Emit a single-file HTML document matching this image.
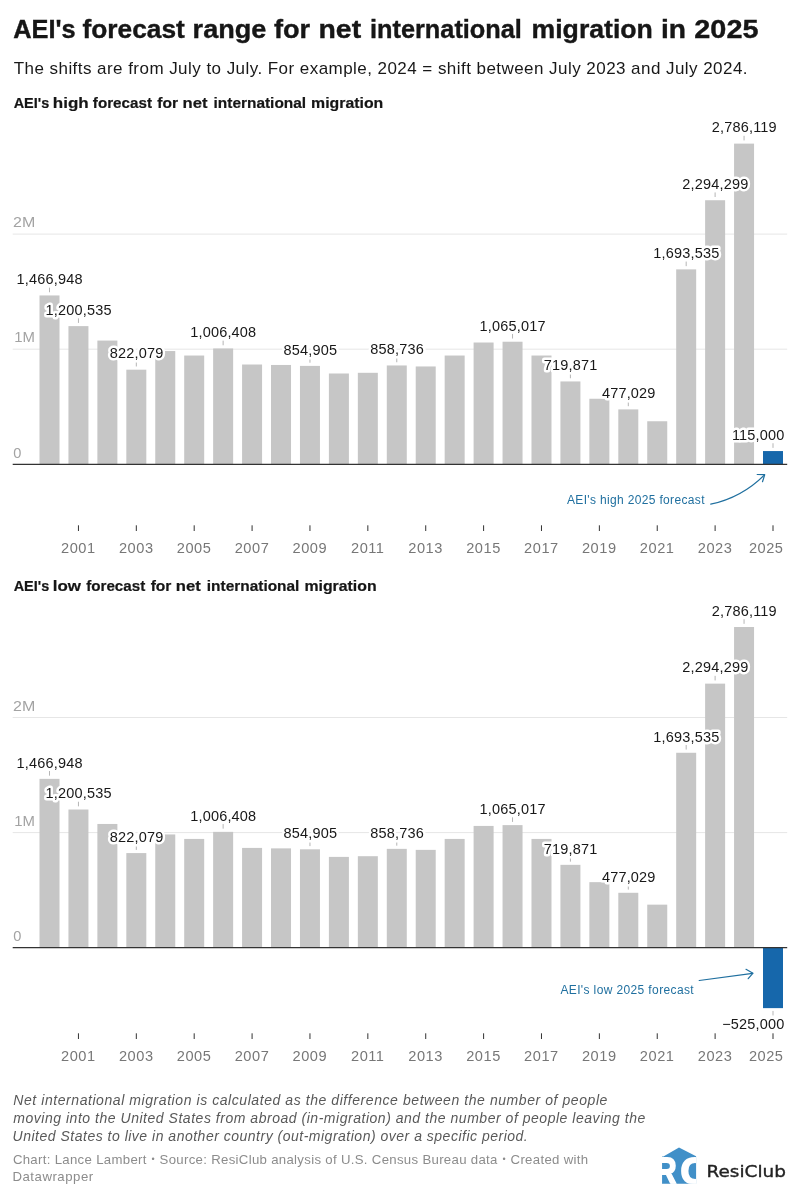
<!DOCTYPE html>
<html><head><meta charset="utf-8"><title>AEI's forecast range for net international migration in 2025</title>
<style>
html,body{margin:0;padding:0;background:#fff;}
body{width:800px;height:1198px;position:relative;overflow:hidden;}
svg{position:absolute;left:0;top:0;display:block;}
svg text{font-family:"Liberation Sans",sans-serif;white-space:pre;}
.h1{font-weight:bold;fill:#161616;stroke:#161616;stroke-width:0.4px;}
.sub{fill:#181818;}
.sec{font-weight:bold;fill:#161616;stroke:#161616;stroke-width:0.2px;}
.note{font-style:italic;fill:#595959;}
.by{fill:#8c8c8c;}
.grid{stroke:#e6e6e6;stroke-width:1;}
.base{stroke:#333;stroke-width:1.3;}
.ylab{fill:#a3a3a3;}
.xlab{fill:#777;}
.xt{stroke:#333;stroke-width:1;}
.vt{stroke:#b5b5b5;stroke-width:1;}
.vlab{fill:#181818;stroke:#fff;stroke-width:5px;paint-order:stroke;stroke-linejoin:round;}
.ann{fill:#1f6f9f;}
.arr{fill:none;stroke:#1f6f9f;stroke-width:1.2;stroke-linecap:round;stroke-linejoin:round;}
svg text.rc{font-family:"DejaVu Sans","Liberation Sans",sans-serif;fill:#222;stroke:#222;stroke-width:0.35px;}
</style></head><body>
<svg width="800" height="1198" viewBox="0 0 800 1198">
<text y="38.20" class="h1" font-size="26.6"><tspan x="13.30" textLength="62.42" lengthAdjust="spacingAndGlyphs">AEI's</tspan> <tspan x="82.49" textLength="102.34" lengthAdjust="spacingAndGlyphs">forecast</tspan> <tspan x="192.61" textLength="73.77" lengthAdjust="spacingAndGlyphs">range</tspan> <tspan x="273.98" textLength="36.21" lengthAdjust="spacingAndGlyphs">for</tspan> <tspan x="318.52" textLength="42.61" lengthAdjust="spacingAndGlyphs">net</tspan> <tspan x="370.02" textLength="151.88" lengthAdjust="spacingAndGlyphs">international</tspan> <tspan x="531.54" textLength="121.35" lengthAdjust="spacingAndGlyphs">migration</tspan> <tspan x="660.94" textLength="25.02" lengthAdjust="spacingAndGlyphs">in</tspan> <tspan x="694.30" textLength="64.22" lengthAdjust="spacingAndGlyphs">2025</tspan></text>
<text x="13.73" y="74.30" class="sub" font-size="17" letter-spacing="0.451">The shifts are from July to July. For example, 2024 = shift between July 2023 and July 2024.</text>
<text y="108.00" class="sec" font-size="15"><tspan x="13.67" textLength="35.51" lengthAdjust="spacingAndGlyphs">AEI's</tspan> <tspan x="52.84" textLength="35.88" lengthAdjust="spacingAndGlyphs">high</tspan> <tspan x="92.86" textLength="59.11" lengthAdjust="spacingAndGlyphs">forecast</tspan> <tspan x="157.36" textLength="20.76" lengthAdjust="spacingAndGlyphs">for</tspan> <tspan x="182.56" textLength="24.92" lengthAdjust="spacingAndGlyphs">net</tspan> <tspan x="213.54" textLength="92.58" lengthAdjust="spacingAndGlyphs">international</tspan> <tspan x="311.11" textLength="72.16" lengthAdjust="spacingAndGlyphs">migration</tspan></text>
<text y="591.00" class="sec" font-size="15"><tspan x="13.67" textLength="35.51" lengthAdjust="spacingAndGlyphs">AEI's</tspan> <tspan x="52.84" textLength="28.20" lengthAdjust="spacingAndGlyphs">low</tspan> <tspan x="86.16" textLength="59.11" lengthAdjust="spacingAndGlyphs">forecast</tspan> <tspan x="150.66" textLength="20.76" lengthAdjust="spacingAndGlyphs">for</tspan> <tspan x="175.86" textLength="24.92" lengthAdjust="spacingAndGlyphs">net</tspan> <tspan x="206.84" textLength="92.58" lengthAdjust="spacingAndGlyphs">international</tspan> <tspan x="304.41" textLength="72.16" lengthAdjust="spacingAndGlyphs">migration</tspan></text>
<g id="chart-high">
<line x1="12.7" x2="787.2" y1="349.20" y2="349.20" class="grid"/>
<text x="14.27" y="342.40" class="ylab" font-size="14.6" textLength="20.74" lengthAdjust="spacingAndGlyphs">1M</text>
<line x1="12.7" x2="787.2" y1="234.10" y2="234.10" class="grid"/>
<text x="13.05" y="227.30" class="ylab" font-size="14.6" textLength="22.23" lengthAdjust="spacingAndGlyphs">2M</text>
<text x="13.34" y="457.50" class="ylab" font-size="14.6" letter-spacing="0.000">0</text>
<rect x="39.50" y="295.45" width="20.0" height="168.85" fill="#c6c6c6"/>
<rect x="68.44" y="326.12" width="20.0" height="138.18" fill="#c6c6c6"/>
<rect x="97.38" y="340.57" width="20.0" height="123.73" fill="#c6c6c6"/>
<rect x="126.32" y="369.68" width="20.0" height="94.62" fill="#c6c6c6"/>
<rect x="155.26" y="351.04" width="20.0" height="113.26" fill="#c6c6c6"/>
<rect x="184.20" y="355.53" width="20.0" height="108.77" fill="#c6c6c6"/>
<rect x="213.14" y="348.46" width="20.0" height="115.84" fill="#c6c6c6"/>
<rect x="242.08" y="364.51" width="20.0" height="99.79" fill="#c6c6c6"/>
<rect x="271.02" y="364.97" width="20.0" height="99.33" fill="#c6c6c6"/>
<rect x="299.96" y="365.90" width="20.0" height="98.40" fill="#c6c6c6"/>
<rect x="328.90" y="373.49" width="20.0" height="90.81" fill="#c6c6c6"/>
<rect x="357.84" y="372.80" width="20.0" height="91.50" fill="#c6c6c6"/>
<rect x="386.78" y="365.46" width="20.0" height="98.84" fill="#c6c6c6"/>
<rect x="415.72" y="366.47" width="20.0" height="97.83" fill="#c6c6c6"/>
<rect x="444.66" y="355.53" width="20.0" height="108.77" fill="#c6c6c6"/>
<rect x="473.60" y="342.52" width="20.0" height="121.78" fill="#c6c6c6"/>
<rect x="502.54" y="341.72" width="20.0" height="122.58" fill="#c6c6c6"/>
<rect x="531.48" y="355.53" width="20.0" height="108.77" fill="#c6c6c6"/>
<rect x="560.42" y="381.44" width="20.0" height="82.86" fill="#c6c6c6"/>
<rect x="589.36" y="398.75" width="20.0" height="65.55" fill="#c6c6c6"/>
<rect x="618.30" y="409.39" width="20.0" height="54.91" fill="#c6c6c6"/>
<rect x="647.24" y="421.25" width="20.0" height="43.05" fill="#c6c6c6"/>
<rect x="676.18" y="269.37" width="20.0" height="194.93" fill="#c6c6c6"/>
<rect x="705.12" y="200.23" width="20.0" height="264.07" fill="#c6c6c6"/>
<rect x="734.06" y="143.62" width="20.0" height="320.68" fill="#c6c6c6"/>
<rect x="763.00" y="451.06" width="20.0" height="13.24" fill="#1667ab"/>
<line x1="12.7" x2="787.2" y1="464.30" y2="464.30" class="base"/>
<line x1="49.50" x2="49.50" y1="287.65" y2="292.25" class="vt"/>
<text x="16.54" y="284.25" class="vlab" font-size="14.5" letter-spacing="0.186">1,466,948</text>
<line x1="78.44" x2="78.44" y1="318.32" y2="322.92" class="vt"/>
<text x="45.48" y="314.92" class="vlab" font-size="14.5" letter-spacing="0.186">1,200,535</text>
<line x1="136.32" x2="136.32" y1="361.88" y2="366.48" class="vt"/>
<text x="109.82" y="358.48" class="vlab" font-size="14.5" letter-spacing="0.186">822,079</text>
<line x1="223.14" x2="223.14" y1="340.66" y2="345.26" class="vt"/>
<text x="190.18" y="337.26" class="vlab" font-size="14.5" letter-spacing="0.186">1,006,408</text>
<line x1="309.96" x2="309.96" y1="358.10" y2="362.70" class="vt"/>
<text x="283.46" y="354.70" class="vlab" font-size="14.5" letter-spacing="0.186">854,905</text>
<line x1="396.78" x2="396.78" y1="357.66" y2="362.26" class="vt"/>
<text x="370.28" y="354.26" class="vlab" font-size="14.5" letter-spacing="0.186">858,736</text>
<line x1="512.54" x2="512.54" y1="333.92" y2="338.52" class="vt"/>
<text x="479.58" y="330.52" class="vlab" font-size="14.5" letter-spacing="0.186">1,065,017</text>
<line x1="570.42" x2="570.42" y1="373.64" y2="378.24" class="vt"/>
<text x="543.81" y="370.24" class="vlab" font-size="14.5" letter-spacing="0.186">719,871</text>
<line x1="628.30" x2="628.30" y1="401.59" y2="406.19" class="vt"/>
<text x="601.92" y="398.19" class="vlab" font-size="14.5" letter-spacing="0.186">477,029</text>
<line x1="686.18" x2="686.18" y1="261.57" y2="266.17" class="vt"/>
<text x="653.22" y="258.17" class="vlab" font-size="14.5" letter-spacing="0.186">1,693,535</text>
<line x1="715.12" x2="715.12" y1="192.43" y2="197.03" class="vt"/>
<text x="682.28" y="189.03" class="vlab" font-size="14.5" letter-spacing="0.186">2,294,299</text>
<line x1="744.06" x2="744.06" y1="135.82" y2="140.42" class="vt"/>
<text x="711.76" y="132.42" class="vlab" font-size="14.5" letter-spacing="0.186">2,786,119</text>
<line x1="773.00" x2="773.00" y1="443.26" y2="447.86" class="vt"/>
<text x="731.91" y="439.86" class="vlab" font-size="14.5" letter-spacing="0.186">115,000</text>
<line x1="78.44" x2="78.44" y1="525.30" y2="531.00" class="xt"/>
<text x="61.06" y="552.50" class="xlab" font-size="14.6" letter-spacing="0.532">2001</text>
<line x1="136.32" x2="136.32" y1="525.30" y2="531.00" class="xt"/>
<text x="118.94" y="552.50" class="xlab" font-size="14.6" letter-spacing="0.532">2003</text>
<line x1="194.20" x2="194.20" y1="525.30" y2="531.00" class="xt"/>
<text x="176.82" y="552.50" class="xlab" font-size="14.6" letter-spacing="0.532">2005</text>
<line x1="252.08" x2="252.08" y1="525.30" y2="531.00" class="xt"/>
<text x="234.70" y="552.50" class="xlab" font-size="14.6" letter-spacing="0.532">2007</text>
<line x1="309.96" x2="309.96" y1="525.30" y2="531.00" class="xt"/>
<text x="292.58" y="552.50" class="xlab" font-size="14.6" letter-spacing="0.532">2009</text>
<line x1="367.84" x2="367.84" y1="525.30" y2="531.00" class="xt"/>
<text x="351.00" y="552.50" class="xlab" font-size="14.6" letter-spacing="0.532">2011</text>
<line x1="425.72" x2="425.72" y1="525.30" y2="531.00" class="xt"/>
<text x="408.34" y="552.50" class="xlab" font-size="14.6" letter-spacing="0.532">2013</text>
<line x1="483.60" x2="483.60" y1="525.30" y2="531.00" class="xt"/>
<text x="466.22" y="552.50" class="xlab" font-size="14.6" letter-spacing="0.532">2015</text>
<line x1="541.48" x2="541.48" y1="525.30" y2="531.00" class="xt"/>
<text x="524.10" y="552.50" class="xlab" font-size="14.6" letter-spacing="0.532">2017</text>
<line x1="599.36" x2="599.36" y1="525.30" y2="531.00" class="xt"/>
<text x="581.98" y="552.50" class="xlab" font-size="14.6" letter-spacing="0.532">2019</text>
<line x1="657.24" x2="657.24" y1="525.30" y2="531.00" class="xt"/>
<text x="639.86" y="552.50" class="xlab" font-size="14.6" letter-spacing="0.532">2021</text>
<line x1="715.12" x2="715.12" y1="525.30" y2="531.00" class="xt"/>
<text x="697.74" y="552.50" class="xlab" font-size="14.6" letter-spacing="0.532">2023</text>
<line x1="773.00" x2="773.00" y1="525.30" y2="531.00" class="xt"/>
<text x="748.92" y="552.50" class="xlab" font-size="14.6" letter-spacing="0.532">2025</text>
<text x="567.00" y="503.60" class="ann" font-size="12" letter-spacing="0.338">AEI's high 2025 forecast</text>
<path d="M710.7,504.2 Q742,497.3 764.2,475.1" class="arr"/>
<path d="M757.2,474.5 L764.7,474.7 L762.5,481.7" class="arr"/>
</g>
<g id="chart-low">
<line x1="12.7" x2="787.2" y1="832.60" y2="832.60" class="grid"/>
<text x="14.27" y="825.80" class="ylab" font-size="14.6" textLength="20.74" lengthAdjust="spacingAndGlyphs">1M</text>
<line x1="12.7" x2="787.2" y1="717.50" y2="717.50" class="grid"/>
<text x="13.05" y="710.70" class="ylab" font-size="14.6" textLength="22.23" lengthAdjust="spacingAndGlyphs">2M</text>
<text x="13.34" y="940.90" class="ylab" font-size="14.6" letter-spacing="0.000">0</text>
<rect x="39.50" y="778.85" width="20.0" height="168.85" fill="#c6c6c6"/>
<rect x="68.44" y="809.52" width="20.0" height="138.18" fill="#c6c6c6"/>
<rect x="97.38" y="823.97" width="20.0" height="123.73" fill="#c6c6c6"/>
<rect x="126.32" y="853.08" width="20.0" height="94.62" fill="#c6c6c6"/>
<rect x="155.26" y="834.44" width="20.0" height="113.26" fill="#c6c6c6"/>
<rect x="184.20" y="838.93" width="20.0" height="108.77" fill="#c6c6c6"/>
<rect x="213.14" y="831.86" width="20.0" height="115.84" fill="#c6c6c6"/>
<rect x="242.08" y="847.91" width="20.0" height="99.79" fill="#c6c6c6"/>
<rect x="271.02" y="848.37" width="20.0" height="99.33" fill="#c6c6c6"/>
<rect x="299.96" y="849.30" width="20.0" height="98.40" fill="#c6c6c6"/>
<rect x="328.90" y="856.89" width="20.0" height="90.81" fill="#c6c6c6"/>
<rect x="357.84" y="856.20" width="20.0" height="91.50" fill="#c6c6c6"/>
<rect x="386.78" y="848.86" width="20.0" height="98.84" fill="#c6c6c6"/>
<rect x="415.72" y="849.87" width="20.0" height="97.83" fill="#c6c6c6"/>
<rect x="444.66" y="838.93" width="20.0" height="108.77" fill="#c6c6c6"/>
<rect x="473.60" y="825.92" width="20.0" height="121.78" fill="#c6c6c6"/>
<rect x="502.54" y="825.12" width="20.0" height="122.58" fill="#c6c6c6"/>
<rect x="531.48" y="838.93" width="20.0" height="108.77" fill="#c6c6c6"/>
<rect x="560.42" y="864.84" width="20.0" height="82.86" fill="#c6c6c6"/>
<rect x="589.36" y="882.15" width="20.0" height="65.55" fill="#c6c6c6"/>
<rect x="618.30" y="892.79" width="20.0" height="54.91" fill="#c6c6c6"/>
<rect x="647.24" y="904.65" width="20.0" height="43.05" fill="#c6c6c6"/>
<rect x="676.18" y="752.77" width="20.0" height="194.93" fill="#c6c6c6"/>
<rect x="705.12" y="683.63" width="20.0" height="264.07" fill="#c6c6c6"/>
<rect x="734.06" y="627.02" width="20.0" height="320.68" fill="#c6c6c6"/>
<rect x="763.00" y="947.70" width="20.0" height="60.43" fill="#1667ab"/>
<line x1="12.7" x2="787.2" y1="947.70" y2="947.70" class="base"/>
<line x1="49.50" x2="49.50" y1="771.05" y2="775.65" class="vt"/>
<text x="16.54" y="767.65" class="vlab" font-size="14.5" letter-spacing="0.186">1,466,948</text>
<line x1="78.44" x2="78.44" y1="801.72" y2="806.32" class="vt"/>
<text x="45.48" y="798.32" class="vlab" font-size="14.5" letter-spacing="0.186">1,200,535</text>
<line x1="136.32" x2="136.32" y1="845.28" y2="849.88" class="vt"/>
<text x="109.82" y="841.88" class="vlab" font-size="14.5" letter-spacing="0.186">822,079</text>
<line x1="223.14" x2="223.14" y1="824.06" y2="828.66" class="vt"/>
<text x="190.18" y="820.66" class="vlab" font-size="14.5" letter-spacing="0.186">1,006,408</text>
<line x1="309.96" x2="309.96" y1="841.50" y2="846.10" class="vt"/>
<text x="283.46" y="838.10" class="vlab" font-size="14.5" letter-spacing="0.186">854,905</text>
<line x1="396.78" x2="396.78" y1="841.06" y2="845.66" class="vt"/>
<text x="370.28" y="837.66" class="vlab" font-size="14.5" letter-spacing="0.186">858,736</text>
<line x1="512.54" x2="512.54" y1="817.32" y2="821.92" class="vt"/>
<text x="479.58" y="813.92" class="vlab" font-size="14.5" letter-spacing="0.186">1,065,017</text>
<line x1="570.42" x2="570.42" y1="857.04" y2="861.64" class="vt"/>
<text x="543.81" y="853.64" class="vlab" font-size="14.5" letter-spacing="0.186">719,871</text>
<line x1="628.30" x2="628.30" y1="884.99" y2="889.59" class="vt"/>
<text x="601.92" y="881.59" class="vlab" font-size="14.5" letter-spacing="0.186">477,029</text>
<line x1="686.18" x2="686.18" y1="744.97" y2="749.57" class="vt"/>
<text x="653.22" y="741.57" class="vlab" font-size="14.5" letter-spacing="0.186">1,693,535</text>
<line x1="715.12" x2="715.12" y1="675.83" y2="680.43" class="vt"/>
<text x="682.28" y="672.43" class="vlab" font-size="14.5" letter-spacing="0.186">2,294,299</text>
<line x1="744.06" x2="744.06" y1="619.22" y2="623.82" class="vt"/>
<text x="711.76" y="615.82" class="vlab" font-size="14.5" letter-spacing="0.186">2,786,119</text>
<line x1="773.00" x2="773.00" y1="1010.93" y2="1015.43" class="vt"/>
<text x="722.18" y="1028.93" class="vlab" font-size="14.5" letter-spacing="0.186">−525,000</text>
<line x1="78.44" x2="78.44" y1="1033.30" y2="1039.00" class="xt"/>
<text x="61.06" y="1060.50" class="xlab" font-size="14.6" letter-spacing="0.532">2001</text>
<line x1="136.32" x2="136.32" y1="1033.30" y2="1039.00" class="xt"/>
<text x="118.94" y="1060.50" class="xlab" font-size="14.6" letter-spacing="0.532">2003</text>
<line x1="194.20" x2="194.20" y1="1033.30" y2="1039.00" class="xt"/>
<text x="176.82" y="1060.50" class="xlab" font-size="14.6" letter-spacing="0.532">2005</text>
<line x1="252.08" x2="252.08" y1="1033.30" y2="1039.00" class="xt"/>
<text x="234.70" y="1060.50" class="xlab" font-size="14.6" letter-spacing="0.532">2007</text>
<line x1="309.96" x2="309.96" y1="1033.30" y2="1039.00" class="xt"/>
<text x="292.58" y="1060.50" class="xlab" font-size="14.6" letter-spacing="0.532">2009</text>
<line x1="367.84" x2="367.84" y1="1033.30" y2="1039.00" class="xt"/>
<text x="351.00" y="1060.50" class="xlab" font-size="14.6" letter-spacing="0.532">2011</text>
<line x1="425.72" x2="425.72" y1="1033.30" y2="1039.00" class="xt"/>
<text x="408.34" y="1060.50" class="xlab" font-size="14.6" letter-spacing="0.532">2013</text>
<line x1="483.60" x2="483.60" y1="1033.30" y2="1039.00" class="xt"/>
<text x="466.22" y="1060.50" class="xlab" font-size="14.6" letter-spacing="0.532">2015</text>
<line x1="541.48" x2="541.48" y1="1033.30" y2="1039.00" class="xt"/>
<text x="524.10" y="1060.50" class="xlab" font-size="14.6" letter-spacing="0.532">2017</text>
<line x1="599.36" x2="599.36" y1="1033.30" y2="1039.00" class="xt"/>
<text x="581.98" y="1060.50" class="xlab" font-size="14.6" letter-spacing="0.532">2019</text>
<line x1="657.24" x2="657.24" y1="1033.30" y2="1039.00" class="xt"/>
<text x="639.86" y="1060.50" class="xlab" font-size="14.6" letter-spacing="0.532">2021</text>
<line x1="715.12" x2="715.12" y1="1033.30" y2="1039.00" class="xt"/>
<text x="697.74" y="1060.50" class="xlab" font-size="14.6" letter-spacing="0.532">2023</text>
<line x1="773.00" x2="773.00" y1="1033.30" y2="1039.00" class="xt"/>
<text x="748.92" y="1060.50" class="xlab" font-size="14.6" letter-spacing="0.532">2025</text>
<text x="560.40" y="993.80" class="ann" font-size="12" letter-spacing="0.376">AEI's low 2025 forecast</text>
<path d="M699.2,980.5 L752.6,973.3" class="arr"/>
<path d="M746,969.3 L753,973.2 L748.2,978.7" class="arr"/>
</g>
<text x="13.28" y="1105.00" class="note" font-size="14" letter-spacing="0.567">Net international migration is calculated as the difference between the number of people</text>
<text x="13.28" y="1123.10" class="note" font-size="14" letter-spacing="0.526">moving into the United States from abroad (in-migration) and the number of people leaving the</text>
<text x="12.62" y="1141.20" class="note" font-size="14" letter-spacing="0.502">United States to live in another country (out-migration) over a specific period.</text>
<text x="12.88" y="1163.80" class="by" font-size="13.2" letter-spacing="0.315">Chart: Lance Lambert <tspan font-size="9" dx="0.7" dy="-1.6">•</tspan><tspan dx="0.7" dy="1.6"> Source: ResiClub analysis of U.S. Census Bureau data </tspan><tspan font-size="9" dx="0.7" dy="-1.6">•</tspan><tspan dx="0.7" dy="1.6"> Created with</tspan></text>
<text x="12.47" y="1180.50" class="by" font-size="13.2" letter-spacing="0.522">Datawrapper</text>
<g id="logo">
<clipPath id="hc"><path d="M662,1156.6 L663.4,1156.6 L679,1147.4 L696.1,1156.2 L696.1,1183.7 L662,1183.7 Z"/></clipPath>
<path d="M662,1156.6 L663.4,1156.6 L679,1147.4 L696.1,1156.2 L696.1,1183.7 L662,1183.7 Z" fill="#4190c8"/>
<g clip-path="url(#hc)">
<text x="0" y="0" font-size="37.5" font-weight="bold" fill="#fff" stroke="#fff" stroke-width="1.8" class="lg" transform="translate(655.0 1183.7) scale(0.8 1)">R</text>
<text x="680.6" y="1183.9" font-size="37.5" font-weight="bold" fill="#fff" stroke="#fff" stroke-width="1.8" class="lg">C</text>
</g>
</g>
<text x="706.47" y="1176.6" class="rc" font-size="16.6" textLength="79.49" lengthAdjust="spacingAndGlyphs">ResiClub</text>
</svg>
</body></html>
